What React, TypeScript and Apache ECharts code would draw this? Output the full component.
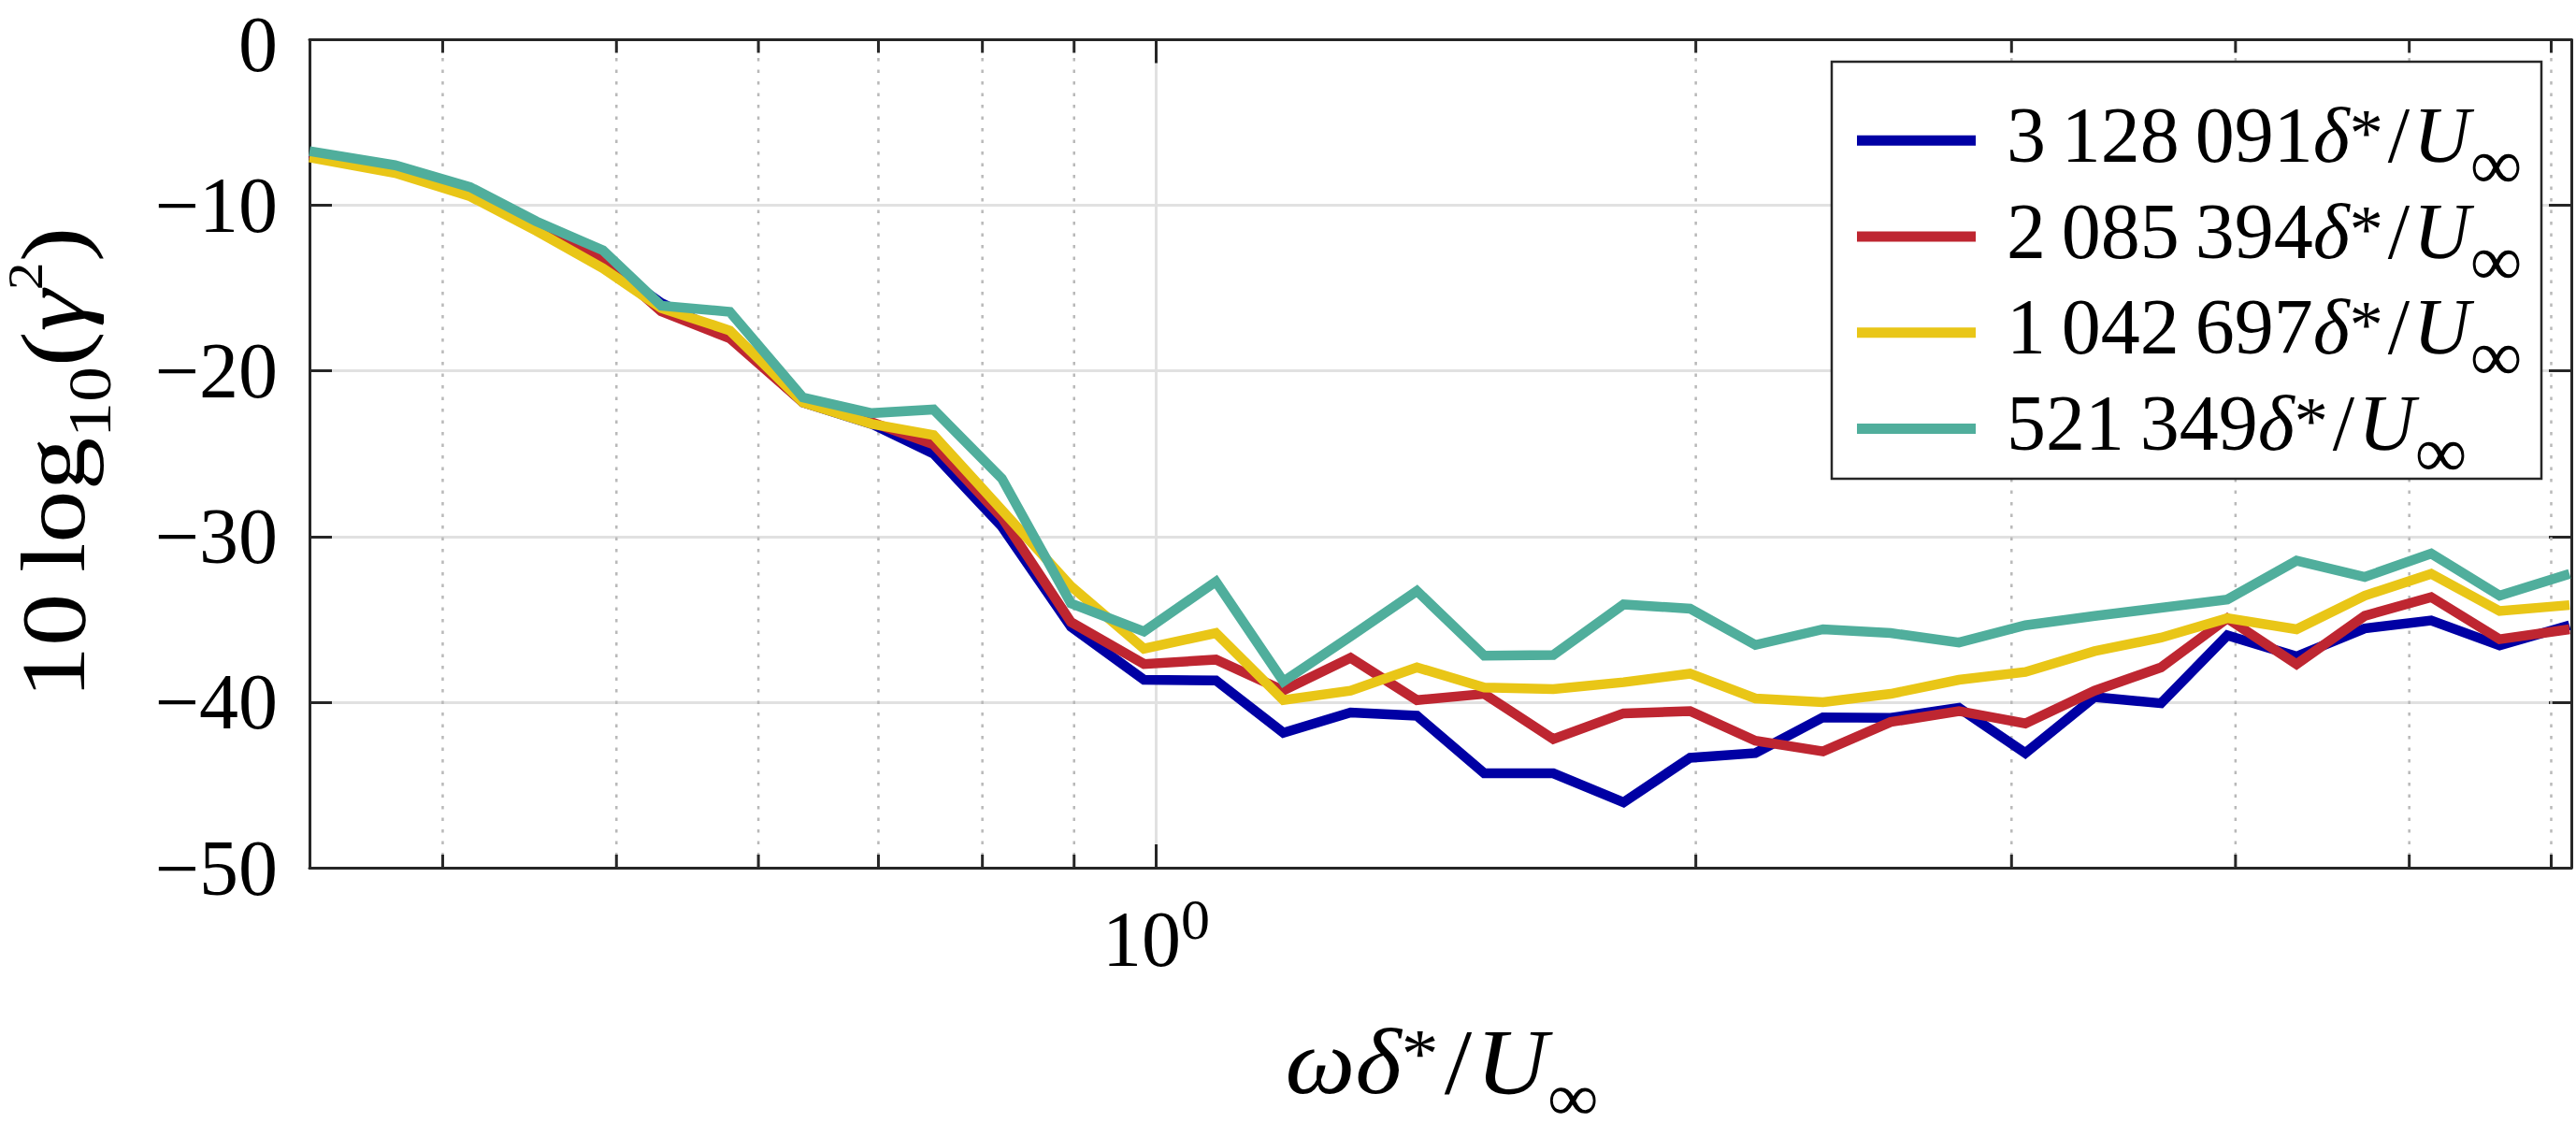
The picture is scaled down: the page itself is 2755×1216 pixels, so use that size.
import React, { useEffect, useRef } from 'react';
import * as echarts from 'echarts';

// ---- data ----
const FREQ = [0.3371, 0.3763, 0.4144, 0.4511, 0.4914, 0.5296, 0.5784, 0.6353, 0.6939, 0.7514, 0.8203, 0.8964, 0.9845, 1.0798, 1.1775, 1.2837, 1.3978, 1.5241, 1.6655, 1.8227, 1.9853, 2.159, 2.355, 2.5689, 2.804, 3.0537, 3.3377, 3.6351, 3.9582, 4.3262, 4.7222, 5.1428, 5.6152, 6.1426];
const BLUE = [-6.9, -7.8, -9.2, -11.3, -13.4, -15.9, -17.9, -21.9, -23.2, -25.0, -29.4, -35.45, -38.65, -38.69, -41.85, -40.63, -40.82, -44.3, -44.3, -46.05, -43.36, -43.08, -40.92, -40.95, -40.35, -43.08, -39.69, -40.07, -35.97, -37.24, -35.55, -35.07, -36.58, -35.36];
const RED = [-6.9, -7.8, -9.2, -11.3, -13.3, -16.4, -18.03, -21.9, -23.1, -24.44, -28.85, -35.17, -37.7, -37.43, -39.3, -37.33, -39.88, -39.5, -42.23, -40.68, -40.54, -42.33, -42.98, -41.2, -40.54, -41.29, -39.31, -37.9, -34.94, -37.71, -34.79, -33.66, -36.2, -35.6];
const YELLOW = [-7.1, -8.05, -9.46, -11.54, -13.8, -16.2, -17.56, -21.9, -23.2, -23.87, -28.4, -33.0, -36.77, -35.83, -39.88, -39.31, -37.9, -39.12, -39.22, -38.8, -38.28, -39.78, -40.0, -39.5, -38.65, -38.18, -36.92, -36.11, -34.93, -35.6, -33.57, -32.25, -34.5, -34.14];
const TEAL = [-6.73, -7.58, -8.9, -10.97, -12.72, -16.06, -16.43, -21.6, -22.55, -22.33, -26.5, -34.04, -35.73, -32.72, -38.75, -36.03, -33.29, -37.2, -37.15, -34.1, -34.36, -36.55, -35.6, -35.83, -36.4, -35.36, -34.8, -34.3, -33.8, -31.46, -32.44, -31.03, -33.57, -32.25];
const SERIES_NAMES = ['3\u2009128\u2009091', '2\u2009085\u2009394', '1\u2009042\u2009697', '521\u2009349'];
const SERIES_VALUES = [BLUE, RED, YELLOW, TEAL];
const SERIES_COLORS = ['#0000A4', '#BE2631', '#E9C617', '#50AE9C'];
const MINOR_TICKS = [0.4, 0.5, 0.6, 0.7, 0.8, 0.9, 2, 3, 4, 5, 6];
const X_MIN = 0.3371;
const X_MAX = 6.157;
const Y_MIN = -50;
const Y_MAX = 0;
const Y_STEP = 10;

const FONT = '"Liberation Serif", "Times New Roman", serif';
const AXIS_C = '#262626';
const GRID_C = '#e1e1e1';
const MINOR_C = '#b9b9b9';

// legend layout (pixels)
const LEGEND_LEFT = 1986;
const LEGEND_FIRST_CENTER = 134.3;
const LEGEND_STEP = 102.7;

function buildOption(): any {
  const lines = SERIES_NAMES.map((name, k) => ({
    type: 'line',
    name,
    data: FREQ.map((f, i) => [f, SERIES_VALUES[k][i]]),
    showSymbol: false,
    symbol: 'none',
    z: 3,
    lineStyle: { width: 10.5, color: SERIES_COLORS[k], join: 'miter' },
    itemStyle: { color: SERIES_COLORS[k], borderWidth: 0 },
    emphasis: { disabled: true },
  }));

  const minorSeries = {
    type: 'custom',
    name: 'minor',
    silent: true,
    z: 1,
    clip: false,
    data: MINOR_TICKS.map((v) => [v, Y_MIN]),
    encode: { x: 0, y: 1 },
    renderItem: (_params: any, api: any) => {
      const v = api.value(0);
      const b = api.coord([v, Y_MIN]);
      const t = api.coord([v, Y_MAX]);
      return {
        type: 'group',
        children: [
          { type: 'line', shape: { x1: b[0], y1: b[1], x2: t[0], y2: t[1] }, style: { stroke: MINOR_C, lineWidth: 2.5, lineDash: [3.5, 9] } },
          { type: 'line', shape: { x1: b[0], y1: b[1], x2: b[0], y2: b[1] - 14 }, style: { stroke: AXIS_C, lineWidth: 3 } },
          { type: 'line', shape: { x1: t[0], y1: t[1], x2: t[0], y2: t[1] + 14 }, style: { stroke: AXIS_C, lineWidth: 3 } },
        ],
      };
    },
  };

  const axisLine = { show: true, onZero: false, lineStyle: { color: AXIS_C, width: 3 } };

  const legendRich = {
    a: { fontSize: 84, fontFamily: FONT, color: '#000', lineHeight: 103, padding: [0, 0, 12, 28] },
    n: { fontSize: 84, fontFamily: FONT, color: '#000', lineHeight: 103, padding: [0, 4, 12, 5] },
    i: { fontSize: 84, fontFamily: FONT, fontStyle: 'italic', color: '#000', lineHeight: 103, padding: [0, 0, 12, 0] },
    s: { fontSize: 72, fontFamily: FONT, color: '#000', lineHeight: 103, padding: [0, 0, 17, 0] },
    b: { fontSize: 78, fontFamily: FONT, color: '#000', lineHeight: 103, padding: [50, 0, 0, 0] },
  };

  const legends = SERIES_NAMES.map((name, k) => ({
    show: true,
    data: [name],
    orient: 'vertical',
    left: LEGEND_LEFT,
    top: LEGEND_FIRST_CENTER + k * LEGEND_STEP - 48,
    padding: 0,
    itemGap: 0,
    itemWidth: 127,
    itemHeight: 11,
    icon: 'rect',
    selectedMode: false,
    z: 10,
    backgroundColor: 'transparent',
    itemStyle: { borderWidth: 0 },
    formatter: (nm: string) => `{a|${nm}}{i|\u03B4}{s|*}{n|/}{i|U}{b|\u221E}`,
    textStyle: { color: '#000', fontFamily: FONT, fontSize: 84, lineHeight: 103, rich: legendRich },
  }));

  return {
    animation: false,
    backgroundColor: '#ffffff',
    textStyle: { fontFamily: FONT },
    grid: { left: 331, right: 5, top: 42.5, bottom: 288, containLabel: false, outerBoundsMode: 'none' },
    xAxis: [
      {
        type: 'log',
        logBase: 10,
        min: X_MIN,
        max: X_MAX,
        position: 'bottom',
        axisLine,
        axisTick: { show: true, inside: true, length: 25, lineStyle: { color: AXIS_C, width: 3 } },
        minorTick: { show: false },
        minorSplitLine: { show: false },
        splitLine: { show: true, lineStyle: { color: GRID_C, width: 3 } },
        axisLabel: {
          show: true,
          margin: 34,
          formatter: (v: number) => (Math.abs(v - 1) < 1e-6 ? '{b|10}{p|0}' : ''),
          rich: {
            b: { fontSize: 84, fontFamily: FONT, color: '#000', lineHeight: 84 },
            p: { fontSize: 62, fontFamily: FONT, color: '#000', lineHeight: 84, padding: [0, 0, 42, 0] },
          },
        },
      },
      {
        type: 'log',
        logBase: 10,
        min: X_MIN,
        max: X_MAX,
        position: 'top',
        axisLine,
        axisTick: { show: true, inside: true, length: 25, lineStyle: { color: AXIS_C, width: 3 } },
        axisLabel: { show: false },
        splitLine: { show: false },
      },
    ],
    yAxis: [
      {
        type: 'value',
        min: Y_MIN,
        max: Y_MAX,
        interval: Y_STEP,
        position: 'left',
        axisLine,
        axisTick: { show: true, inside: true, length: 24, lineStyle: { color: AXIS_C, width: 3 } },
        splitLine: { show: true, lineStyle: { color: GRID_C, width: 3 } },
        axisLabel: {
          show: true,
          margin: 34,
          fontSize: 84,
          lineHeight: 76,
          fontFamily: FONT,
          color: '#000',
          formatter: (v: number) => (v === 0 ? '{z|0}' : '\u2212' + Math.abs(v)),
          rich: {
            z: { fontSize: 84, fontFamily: FONT, color: '#000', lineHeight: 76, padding: [10, 0, 0, 0] },
          },
        },
      },
      {
        type: 'value',
        min: Y_MIN,
        max: Y_MAX,
        interval: Y_STEP,
        position: 'right',
        axisLine,
        axisTick: { show: true, inside: true, length: 24, lineStyle: { color: AXIS_C, width: 3 } },
        splitLine: { show: false },
        axisLabel: { show: false },
      },
    ],
    legend: legends,
    graphic: [
      {
        type: 'rect',
        z: 9,
        silent: true,
        shape: { x: 1959, y: 66, width: 759, height: 446 },
        style: { fill: '#ffffff', stroke: AXIS_C, lineWidth: 2.5 },
      },
      {
        type: 'text',
        z: 9,
        silent: true,
        x: 57.5,
        y: 495,
        rotation: Math.PI / 2,
        scaleX: 1.15,
        style: {
          text: '{n|10\u2009log}{sub|10}{n|(}{i|\u03B3}{sup|2}{n|)}',
          align: 'center',
          verticalAlign: 'middle',
          textAlign: 'center',
          textVerticalAlign: 'middle',
          fill: '#000',
          font: `98px ${FONT}`,
          rich: {
            n: { fontSize: 98, fontFamily: FONT, fill: '#000', lineHeight: 100 },
            i: { fontSize: 98, fontFamily: FONT, fontStyle: 'italic', fill: '#000', lineHeight: 100 },
            sub: { fontSize: 66, fontFamily: FONT, fill: '#000', lineHeight: 100, padding: [76, 0, 0, 0] },
            sup: { fontSize: 52, fontFamily: FONT, fill: '#000', lineHeight: 100, padding: [0, 0, 60, 0] },
          },
        },
      },
      {
        type: 'text',
        z: 9,
        silent: true,
        x: 1542,
        y: 1135,
        scaleX: 1.06,
        style: {
          text: '{i|\u03C9\u03B4}{s|*}{n|/}{i|U}{b|\u221E}',
          align: 'center',
          verticalAlign: 'middle',
          textAlign: 'center',
          textVerticalAlign: 'middle',
          fill: '#000',
          font: `100px ${FONT}`,
          rich: {
            n: { fontSize: 100, fontFamily: FONT, fill: '#000', lineHeight: 120, padding: [0, 4, 0, 6] },
            i: { fontSize: 100, fontFamily: FONT, fontStyle: 'italic', fill: '#000', lineHeight: 120 },
            s: { fontSize: 75, fontFamily: FONT, fill: '#000', lineHeight: 120, padding: [0, 0, 16, 0] },
            b: { fontSize: 72, fontFamily: FONT, fill: '#000', lineHeight: 120, padding: [78, 0, 0, 0] },
          },
        },
      },
    ],
    series: [minorSeries, ...lines],
  };
}

export default function App() {
  const ref = useRef<HTMLDivElement>(null);
  useEffect(() => {
    if (!ref.current) return;
    const chart = echarts.init(ref.current, undefined, { renderer: 'svg' });
    chart.setOption(buildOption());
    return () => chart.dispose();
  }, []);
  return (
    <div
      ref={ref}
      style={{ position: 'fixed', left: 0, top: 0, width: 2755, height: 1216, background: '#fff' }}
    />
  );
}
